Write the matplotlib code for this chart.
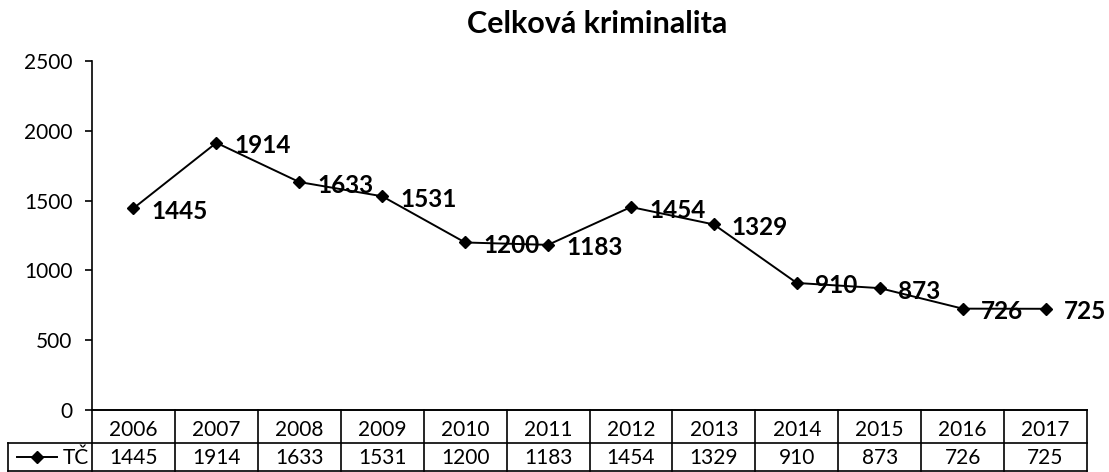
#!/usr/bin/env python
# coding: utf-8

import matplotlib
matplotlib.use('Agg')
from matplotlib import pyplot as plt
from matplotlib.lines import Line2D

years = ['2006', '2007', '2008', '2009', '2010', '2011',
         '2012', '2013', '2014', '2015', '2016', '2017']
tc = [1445, 1914, 1633, 1531, 1200, 1183, 1454, 1329, 910, 873, 726, 725]
series_name = 'TČ'
title = 'Celková kriminalita'
yticks = [0, 500, 1000, 1500, 2000, 2500]

W, H = 1109, 472
plt.rcParams['font.family'] = ['Lato', 'DejaVu Sans']


def main():
    fig = plt.figure(figsize=(W / 100, H / 100), dpi=100)

    # plot area in pixels: x 92..1087, y 61..410
    left, right, top, bottom = 92, 1087, 61, 410
    ax = fig.add_axes([left / W, (H - bottom) / H, (right - left) / W, (bottom - top) / H])
    x = list(range(len(years)))
    ax.plot(x, tc, color='black', lw=1.4, marker='D', ms=6, zorder=2)
    for i, v in zip(x, tc):
        ax.annotate(str(v), (i, v), xytext=(18, -1), textcoords='offset pixels',
                    ha='left', va='center_baseline', fontsize=17.5, fontweight='bold', zorder=3)

    ax.set_xlim(-0.5, len(years) - 0.5)
    ax.set_ylim(0, 2500)
    ax.set_yticks(yticks)
    ax.set_xticks([])
    ax.tick_params(axis='y', direction='out', length=5, width=1.2, labelsize=15, pad=9)
    for s in ['top', 'right']:
        ax.spines[s].set_visible(False)
    for s in ['left', 'bottom']:
        ax.spines[s].set_linewidth(1.2)

    # data table under the chart
    tbot = 471
    tax = fig.add_axes([8 / W, (H - tbot) / H, (right - 8) / W, (tbot - bottom) / H])
    colw = (right - left) / len(years)
    x0 = -0.5 - (left - 8) / colw
    tax.set_xlim(x0, len(years) - 0.5)
    tax.set_ylim(tbot - bottom, 0)
    tax.axis('off')
    mid = 33
    kw = dict(color='black', lw=1.2, clip_on=False)
    tax.plot([-0.5, len(years) - 0.5], [0, 0], **kw)
    tax.plot([x0, len(years) - 0.5], [mid, mid], **kw)
    tax.plot([x0, len(years) - 0.5], [tbot - bottom, tbot - bottom], **kw)
    tax.plot([x0, x0], [mid, tbot - bottom], **kw)
    for k in range(len(years) + 1):
        tax.plot([k - 0.5, k - 0.5], [0, tbot - bottom], **kw)
    for i, (yr, v) in enumerate(zip(years, tc)):
        tax.text(i, 20, yr, ha='center', va='center', fontsize=15)
        tax.text(i, 48, str(v), ha='center', va='center', fontsize=15)

    # legend key in the first cell
    px = lambda p: x0 + (p - 8) / colw
    tax.add_line(Line2D([px(17), px(57)], [47, 47], color='black', lw=1.4, clip_on=False))
    tax.add_line(Line2D([px(37)], [47], color='black', marker='D', ms=6, clip_on=False))
    tax.text(px(89), 48, series_name, ha='right', va='center', fontsize=15)

    fig.text(597 / W, 1 - 24 / H, title, ha='center', va='center',
             fontsize=22, fontweight='bold')

    fig.savefig('out.png', dpi=100)


if __name__ == '__main__':
    main()
